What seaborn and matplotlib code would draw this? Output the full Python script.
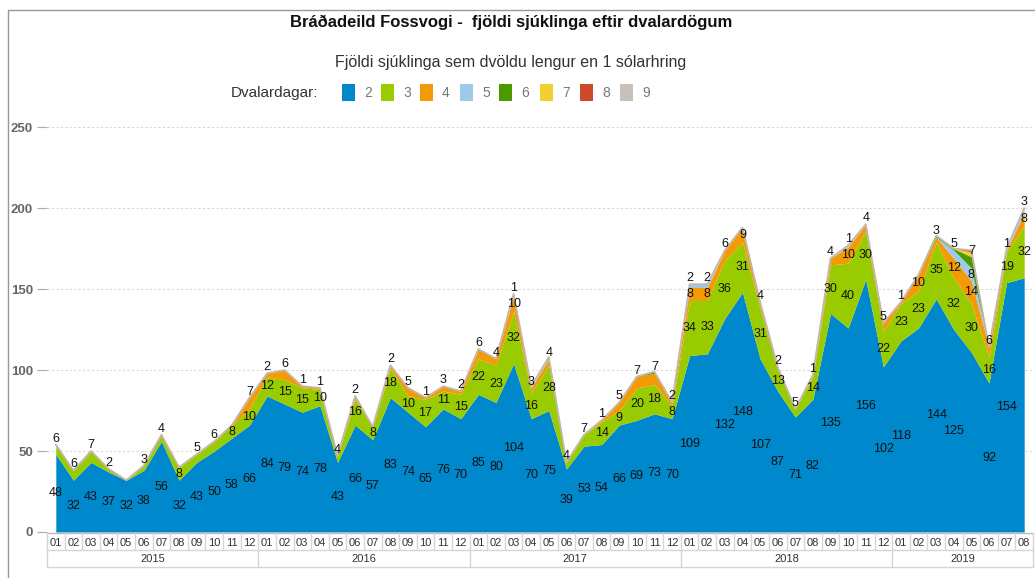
import numpy as np
import matplotlib
matplotlib.use("Agg")
import matplotlib.pyplot as plt
import seaborn as sns
from matplotlib.transforms import blended_transform_factory
from matplotlib.lines import Line2D
from matplotlib.patches import Rectangle

# ---------------- data ----------------
years = ["2015", "2016", "2017", "2018", "2019"]
months = [f"{m:02d}" for m in range(1, 13)] * 4 + [f"{m:02d}" for m in range(1, 9)]
series_names = ["2", "3", "4", "5", "6", "7", "8", "9"]

d2 = [48, 32, 43, 37, 32, 38, 56, 32, 43, 50, 58, 66,
      84, 79, 74, 78, 43, 66, 57, 83, 74, 65, 76, 70,
      85, 80, 104, 70, 75, 39, 53, 54, 66, 69, 73, 70,
      109, 110, 132, 148, 107, 87, 71, 82, 135, 126, 156, 102,
      118, 126, 144, 125, 111, 92, 154, 157]
d3 = [6, 6, 7, 2, 0, 3, 4, 8, 5, 6, 8, 10,
      12, 15, 15, 10, 4, 16, 8, 18, 10, 17, 11, 15,
      22, 23, 32, 16, 28, 4, 7, 14, 9, 20, 18, 8,
      34, 33, 36, 31, 31, 13, 5, 14, 30, 40, 30, 22,
      23, 23, 35, 32, 30, 16, 19, 32]
d4 = [0, 0, 0, 0, 0, 0, 0, 0, 0, 0, 0, 7,
      2, 6, 1, 1, 0, 2, 0, 2, 5, 1, 3, 2,
      6, 4, 10, 3, 4, 0, 0, 1, 5, 7, 7, 2,
      8, 8, 6, 9, 4, 2, 0, 1, 4, 10, 4, 5,
      1, 10, 3, 12, 14, 6, 1, 8]
d5 = [0] * 24 + \
     [0, 0, 1, 1, 1, 0, 0, 0, 0, 0, 0, 0,
      2, 2, 0, 0, 0, 0, 0, 0, 0, 1, 0, 0,
      0, 0, 0, 5, 8, 0, 1, 3]
d6 = [0] * 34 + [1, 0] + [0] * 12 + [0, 0, 1, 1, 7, 0, 0, 0]
d7 = [0] * 48 + [0, 0, 0, 0, 3, 0, 0, 0]
d8 = [0] * 48 + [0, 0, 0, 0, 1, 0, 0, 0]
d9 = [0] * 56

colors = ["#0088cc", "#99cc00", "#f39a05", "#9ecae9", "#4b9b00",
          "#f2d02f", "#cc4b2a", "#c9c0ba"]

# ---------------- figure ----------------
sns.set_theme(style="white")
plt.rcParams["font.family"] = ["Liberation Sans", "DejaVu Sans"]

W, H = 1035, 578
fig = plt.figure(figsize=(W / 100, H / 100), dpi=100)
fig.patch.set_facecolor("white")

ax_left, ax_right, ax_top, ax_bot = 47, 1033, 111, 532
ax = fig.add_axes([ax_left / W, (H - ax_bot) / H,
                   (ax_right - ax_left) / W, (ax_bot - ax_top) / H])
ax.set_facecolor("white")

data = [d2, d3, d4, d5, d6, d7, d8, d9]
n = len(d2)
x = np.arange(n)
ax.stackplot(x, *data, colors=colors, linewidth=0, zorder=2)
total = np.sum(np.array(data), axis=0)
sns.lineplot(x=x, y=total, color="#c4b6a8", linewidth=1.3, ax=ax, zorder=3)

ax.set_xlim(-0.5, n - 0.5)
ax.set_ylim(0, 260)
ax.set_yticks([0, 50, 100, 150, 200, 250])
ax.set_yticklabels(["0", "50", "100", "150", "200", "250"],
                   fontsize=9.5, fontweight="bold", color="#666666")
ax.tick_params(axis="y", length=7, width=0.8, color="#aaaaaa",
               direction="out", pad=3, left=True)
ax.set_xticks([])
ax.yaxis.grid(True, linestyle=(0, (2, 2)), color="#d9d9d9", linewidth=0.8)
ax.set_axisbelow(True)
for s in ax.spines.values():
    s.set_visible(False)
ax.set_xlabel("")
ax.set_ylabel("")

# ---------------- data labels ----------------
px_per_unit = (ax_bot - ax_top) / 260.0
texts = []
cum = np.zeros(n)
for si, vals in enumerate(data):
    vals = np.array(vals, dtype=float)
    for j in range(n):
        v = vals[j]
        if v <= 0:
            continue
        y0 = cum[j]
        y1 = y0 + v
        if v * px_per_unit < 12:
            t = ax.annotate(f"{int(v)}", (x[j], y1), xytext=(0, 6),
                            textcoords="offset pixels", ha="center",
                            va="center", fontsize=9, color="#111111",
                            zorder=5, annotation_clip=False)
        else:
            t = ax.annotate(f"{int(v)}", (x[j], (y0 + y1) / 2), ha="center",
                            va="center", fontsize=9, color="#111111",
                            zorder=5, annotation_clip=False)
        texts.append(t)
    cum += vals

fig.canvas.draw()
renderer = fig.canvas.get_renderer()
placed = []
for t in texts:
    bb = t.get_window_extent(renderer).expanded(0.98, 0.95)
    if any(bb.overlaps(p) for p in placed):
        t.remove()
    else:
        placed.append(bb)

# ---------------- category table under the axis ----------------
tr = blended_transform_factory(ax.transData, fig.transFigure)
def fy(py):
    return 1 - py / H

row1_top, row1_bot, row2_bot = 533, 550, 567
line_c = "#d6d6d6"
ax.add_line(Line2D([-0.5, n - 0.5], [fy(row1_top)] * 2, transform=tr,
                   color="#bbbbbb", lw=1, clip_on=False))
ax.add_line(Line2D([-0.5, n - 0.5], [fy(row1_bot)] * 2, transform=tr,
                   color=line_c, lw=1, clip_on=False))
ax.add_line(Line2D([-0.5, n - 0.5], [fy(row2_bot)] * 2, transform=tr,
                   color=line_c, lw=1, clip_on=False))
for b in np.arange(-0.5, n, 1.0):
    ax.add_line(Line2D([b, b], [fy(row1_top), fy(row1_bot)], transform=tr,
                       color=line_c, lw=1, clip_on=False))
for j, m in enumerate(months):
    ax.text(j, fy((row1_top + row1_bot) / 2 + 1), m, transform=tr,
            ha="center", va="center", fontsize=8, color="#333333")
year_bounds = [-0.5, 11.5, 23.5, 35.5, 47.5, n - 0.5]
for b in year_bounds:
    ax.add_line(Line2D([b, b], [fy(row1_bot), fy(row2_bot)], transform=tr,
                       color=line_c, lw=1, clip_on=False))
for k, yr in enumerate(years):
    xc = (year_bounds[k] + year_bounds[k + 1]) / 2
    ax.text(xc, fy((row1_bot + row2_bot) / 2 + 0.5), yr, transform=tr,
            ha="center", va="center", fontsize=8, color="#333333")

# ---------------- titles & legend ----------------
fig.text(511 / W, fy(22), "Bráðadeild Fossvogi -  fjöldi sjúklinga eftir dvalardögum",
         ha="center", va="center", fontsize=12, fontweight="bold", color="#111111")
fig.text(511 / W, fy(62), "Fjöldi sjúklinga sem dvöldu lengur en 1 sólarhring",
         ha="center", va="center", fontsize=11.5, color="#333333")
fig.text(318 / W, fy(93), "Dvalardagar:", ha="right", va="center",
         fontsize=11, color="#333333")
leg_x = [342, 381, 420, 460, 499, 540, 580, 620]
for lx, c, name in zip(leg_x, colors, series_names):
    fig.patches.append(Rectangle((lx / W, fy(101)), 13 / W, 17 / H,
                                 transform=fig.transFigure, facecolor=c,
                                 edgecolor="none"))
    fig.text((lx + 22) / W, fy(93), name, ha="left", va="center",
             fontsize=10, color="#777777")

# frame
fig.add_artist(Line2D([8 / W, 1.0], [fy(10), fy(10)], transform=fig.transFigure,
                      color="#999999", lw=1))
fig.add_artist(Line2D([8 / W, 8 / W], [fy(10), 0], transform=fig.transFigure,
                      color="#999999", lw=1))

fig.savefig("out.png", dpi=100, facecolor="white")
